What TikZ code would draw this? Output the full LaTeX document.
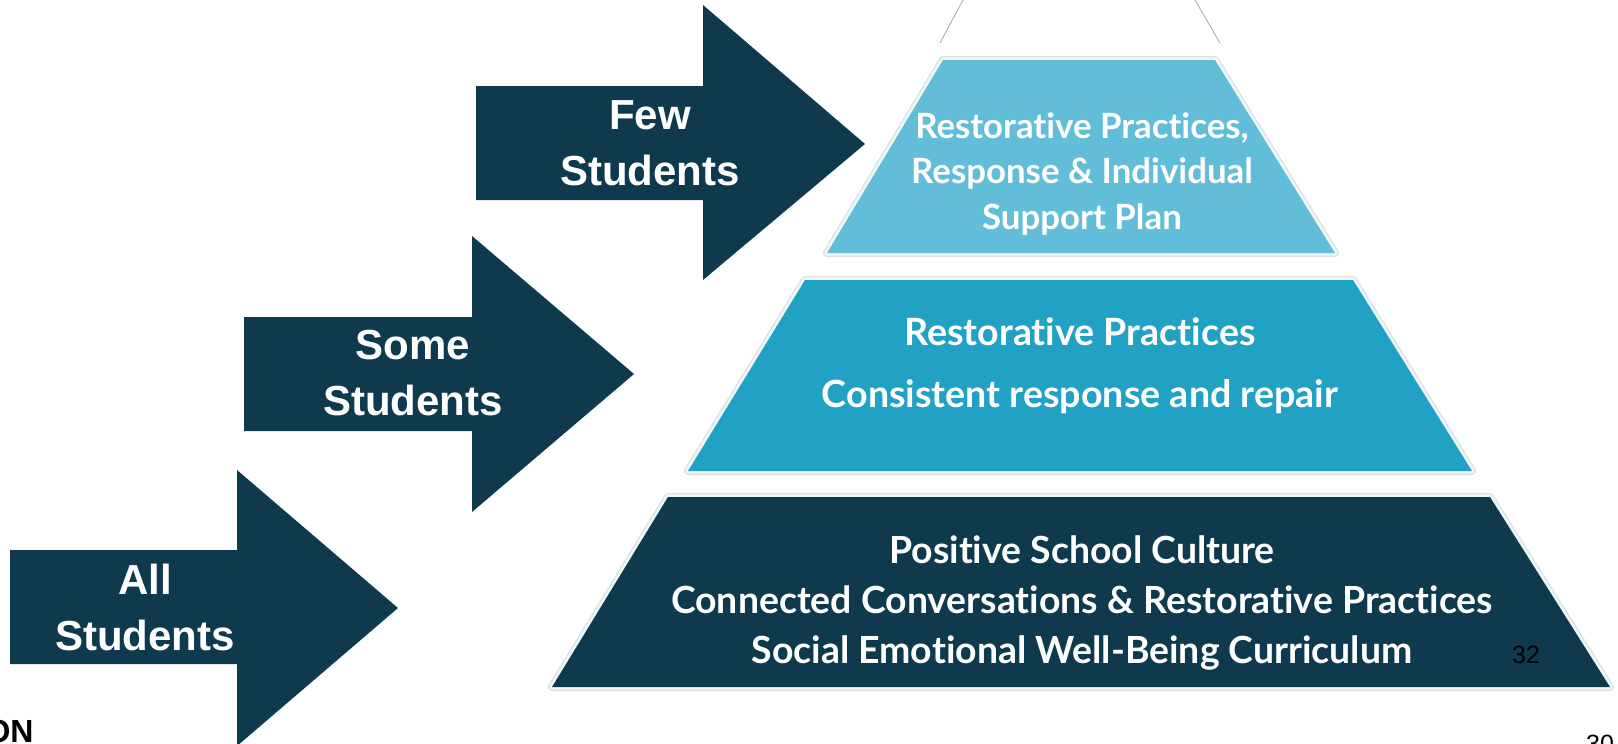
\documentclass[tikz,border=0pt]{standalone}
\usepackage{fontspec}
\setmainfont{Liberation Sans}
\newfontfamily\latofont[Ligatures=NoCommon]{Lato}
\definecolor{navy}{HTML}{0F394D}
\definecolor{tiertop}{HTML}{62BED8}
\definecolor{tiermid}{HTML}{21A1C3}
\definecolor{tierglow}{HTML}{EEF9FC}
\begin{document}
\begin{tikzpicture}[x=0.5pt,y=0.5pt]
\tikzstyle{every node}+=[inner sep=0pt]
\tikzstyle{tier}=[line join=round,
  preaction={draw=black!12, line width=4pt, line join=round},
  preaction={draw=tierglow, line width=2.6pt, line join=round}]
\tikzstyle{arrowtext}=[text=white, align=center, font=\bfseries\fontsize{21}{28}\selectfont]
\tikzstyle{tiertext}=[text=white, align=center, font=\latofont\bfseries\fontsize{17.4}{22.75}\selectfont]
\useasboundingbox (0,0) rectangle (1618,-744);
\fill [white] (0,0) rectangle (1618,-744);
% apex lines
\draw [black!35, line width=0.4pt] (963,0) -- (940,-43);
\draw [black!35, line width=0.4pt] (1195,0) -- (1220,-43);
% pyramid tiers
\fill [tier, tiertop] (943,-60) -- (1215,-60) -- (1335,-253) -- (827,-253) -- cycle;
\fill [tier, tiermid] (805,-280) -- (1353,-280) -- (1472,-471) -- (688,-471) -- cycle;
\fill [tier, navy] (668,-497) -- (1490,-497) -- (1610,-687) -- (552,-687) -- cycle;
% arrows
\fill [navy] (476,-86) -- (703,-86) -- (703,-5) -- (865,-144) -- (703,-280) -- (703,-200) -- (476,-200) -- cycle;
\fill [navy] (244,-317) -- (472,-317) -- (472,-236) -- (634,-374) -- (472,-512) -- (472,-431) -- (244,-431) -- cycle;
\fill [navy] (10,-550) -- (237,-550) -- (237,-470) -- (398,-608) -- (237,-746) -- (237,-664) -- (10,-664) -- cycle;
\node [arrowtext] (few) at (650,-143) {Few\\Students};
\node [arrowtext] (some) at (413,-373) {Some\\Students};
\node [arrowtext] (all) at (145,-607) {All\\Students};
% tier labels
\node [tiertext] (toplabel) at (1082,-174) {Restorative Practices,\\Response \& Individual\\Support Plan};
\node [tiertext, font=\latofont\bfseries\fontsize{18.8}{31}\selectfont] (midlabel) at (1080,-366) {Restorative Practices\\Consistent response and repair};
\node [tiertext, font=\latofont\bfseries\fontsize{18.7}{25}\selectfont] (lowlabel) at (1082,-603) {Positive School Culture\\Connected Conversations \& Restorative Practices\\Social Emotional Well-Being Curriculum};
% page marks
\node [font=\fontsize{12.5}{15}\selectfont] (pagea) at (1526,-655) {32};
\node [font=\fontsize{12.5}{15}\selectfont] (pageb) at (1600,-744) {30};
\node [font=\bfseries\fontsize{16}{19}\selectfont, anchor=base east] (footer) at (34,-742) {ON};
\end{tikzpicture}
\end{document}
